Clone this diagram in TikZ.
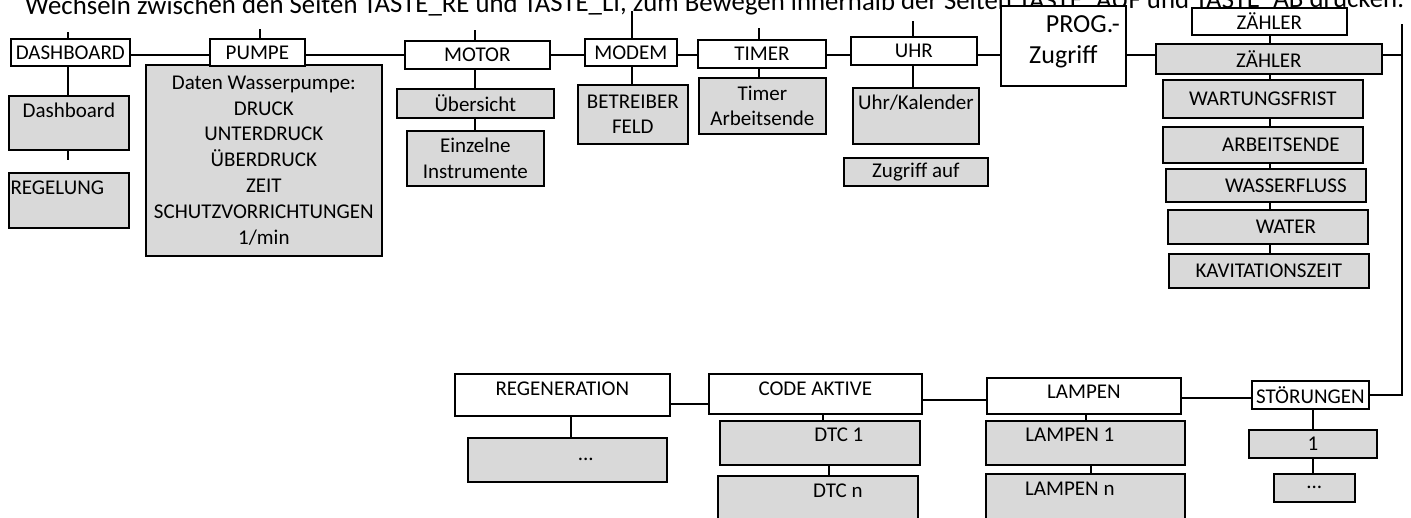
\documentclass[tikz,border=0pt]{standalone}
\usepackage{fontspec}
\setmainfont{Carlito}
\usepackage{graphicx}
\usetikzlibrary{calc}
\definecolor{boxgray}{HTML}{D9D9D9}
\newcommand\myfs{\fontsize{21}{25.8}\selectfont}
\begin{document}
\begin{tikzpicture}[x=1pt,y=-1pt,
  bx/.style={draw=black, line width=1.7pt, inner sep=0pt, anchor=north west, font=\myfs},
  wb/.style={bx, fill=white},
  gb/.style={bx, fill=boxgray},
  sz/.style 2 args={minimum width=#1pt, minimum height=#2pt},
  tb/.style 2 args={text height=#1pt, text depth=#2pt},
  con/.style={line width=1.7pt, line cap=rect}]
\path[use as bounding box, clip] (0,0) rectangle (1411,518);
\fill[white] (0,0) rectangle (1411,518);

% title (cut by the top edge)
\node[anchor=base west, inner sep=0pt, rotate=0.33] (title) at (25,15)
  {\resizebox{1379pt}{!}{\fontsize{24}{28}\selectfont Wechseln zwischen den Seiten TASTE\_RE und TASTE\_LI, zum Bewegen innerhalb der Seiten TASTE\_AUF und TASTE\_AB drücken.}};

% ---------- top row ----------
\node[gb, sz={236}{191}, align=center] (pumpd) at (145,64)
  {Daten Wasserpumpe:\\DRUCK\\UNTERDRUCK\\ÜBERDRUCK\\ZEIT\\SCHUTZVORRICHTUNGEN\\1/min};
\node[wb, sz={119}{27}] (dash) at (10,38) {DASHBOARD};
\node[wb, sz={95}{27}] (pumpe) at (209,38) {PUMPE};
\node[wb, sz={145}{28}] (motor) at (404,40) {MOTOR};
\node[wb, sz={92}{27}] (modem) at (584,38) {MODEM};
\node[wb, sz={128}{28}] (timer) at (697,39) {TIMER};
\node[wb, sz={126}{28}] (uhr) at (850,36) {UHR};
\node[wb, sz={125}{80}, tb={58}{22}, align=center, font=\fontsize{26}{31.5}\selectfont] (prog) at (1000,5)
  {\hspace*{39pt}PROG.-\\Zugriff};
\node[wb, sz={155}{27}] (zw) at (1191,7) {ZÄHLER};

\node[gb, sz={120}{54}, tb={22}{32}] (dashb) at (8,95) {Dashboard};
\node[gb, sz={120}{55}, tb={22}{33}] (regel) at (8,172) {\hspace*{-23pt}REGELUNG};
\node[gb, sz={157}{29}] (uebers) at (396,88) {Übersicht};
\node[gb, sz={137}{55}, align=center] (einz) at (406,130) {Einzelne\\Instrumente};
\node[gb, sz={110}{59}, align=center] (betr) at (577,84) {BETREIBER\\FELD};
\node[gb, sz={127}{56}, align=center] (tarb) at (698,77) {Timer\\Arbeitsende};
\node[gb, sz={126}{56}, tb={22}{34}] (uhrk) at (852,87) {Uhr/Kalender};
\node[gb, sz={144}{28}] (zugr) at (843,157) {Zugriff auf};
\node[gb, sz={226}{30}] (zg) at (1155,43) {ZÄHLER};
\node[gb, sz={200}{38}] (wart) at (1162,79) {WARTUNGSFRIST};
\node[gb, sz={200}{36}] (arbe) at (1162,126) {\hspace*{36pt}ARBEITSENDE};
\node[gb, sz={200}{33}] (wass) at (1165,168) {\hspace*{40pt}WASSERFLUSS};
\node[gb, sz={200}{34}] (water) at (1167,209) {\hspace*{36pt}WATER};
\node[gb, sz={200}{34}] (kav) at (1168,253) {KAVITATIONSZEIT};

% ---------- bottom row ----------
\node[wb, sz={215}{42}, tb={22}{20}] (regen) at (454,373) {REGENERATION};
\node[gb, sz={199}{44}] (rdots) at (467,437) {\hspace*{37pt}...};
\node[wb, sz={213}{40}, tb={22}{18}] (code) at (708,373) {CODE AKTIVE};
\node[gb, sz={200}{44}, tb={21}{23}] (dtc1) at (719,420) {\hspace*{38pt}DTC 1};
\node[gb, sz={200}{60}, tb={22}{38}] (dtcn) at (717,475) {\hspace*{40pt}DTC n};
\node[wb, sz={194}{36}, tb={21}{15}] (lamp) at (986,377) {LAMPEN};
\node[gb, sz={199}{44}, tb={21}{23}] (lamp1) at (985,420) {\hspace*{-31pt}LAMPEN 1};
\node[gb, sz={199}{60}, tb={22}{38}] (lampn) at (985,473) {\hspace*{-31pt}LAMPEN n};
\node[wb, sz={117}{28}] (stoer) at (1251,380) {STÖRUNGEN};
\node[gb, sz={128}{28}] (s1) at (1248,429) {1};
\node[gb, sz={81}{28}] (sdots) at (1273,473) {...};

% ---------- helper coordinates ----------
\coordinate (rail) at (0,55);
\coordinate (rtop) at (1402,25);
\coordinate (rbend) at (1402,395);
\coordinate (dtop) at (68,33);
\coordinate (dend) at (68,159);
\coordinate (ptop) at (260,30);
\coordinate (mtop) at (475,31);
\coordinate (motop) at (632,12);
\coordinate (ttop) at (759,29);
\coordinate (utop) at (913,22);
\coordinate (zcol) at (1270,0);
\coordinate (b1) at (0,404);
\coordinate (b2) at (0,400);
\coordinate (b3) at (0,398);
\coordinate (rcol) at (571,0);
\coordinate (ccol) at (823,0);
\coordinate (ccol2) at (829,0);
\coordinate (lcol) at (1086,0);
\coordinate (lcol2) at (1091,0);
\coordinate (scol) at (1313,0);

% ---------- connectors ----------
\begin{scope}[con]
\draw (dash.east |- rail) -- (pumpe.west |- rail);
\draw (pumpe.east |- rail) -- (motor.west |- rail);
\draw (motor.east |- rail) -- (modem.west |- rail);
\draw (modem.east |- rail) -- (timer.west |- rail);
\draw (timer.east |- rail) -- (uhr.west |- rail);
\draw (uhr.east |- rail) -- (prog.west |- rail);
\draw (prog.east |- rail) -- (zg.west |- rail);
\draw (zg.east |- rail) -- (rtop |- rail);
\draw (rtop) -- (rbend) -- (stoer.east |- rbend);

\draw (dtop) -- (dash.north -| dtop);
\draw (ptop) -- (pumpe.north -| ptop);
\draw (mtop) -- (motor.north -| mtop);
\draw (motop) -- (modem.north -| motop);
\draw (ttop) -- (timer.north -| ttop);
\draw (utop) -- (uhr.north -| utop);

\draw (dash.south -| dtop) -- (dashb.north -| dtop);
\draw (dashb.south -| dtop) -- (dend);
\draw (motor.south -| mtop) -- (uebers.north -| mtop);
\draw (uebers.south -| mtop) -- (einz.north -| mtop);
\draw (modem.south -| motop) -- (betr.north -| motop);
\draw (timer.south -| ttop) -- (tarb.north -| ttop);
\draw (uhr.south -| utop) -- (uhrk.north -| utop);

\draw (zw.south -| zcol) -- (zg.north -| zcol);
\draw (zg.south -| zcol) -- (wart.north -| zcol);
\draw (wart.south -| zcol) -- (arbe.north -| zcol);
\draw (arbe.south -| zcol) -- (wass.north -| zcol);
\draw (wass.south -| zcol) -- (water.north -| zcol);
\draw (water.south -| zcol) -- (kav.north -| zcol);

\draw (regen.east |- b1) -- (code.west |- b1);
\draw (code.east |- b2) -- (lamp.west |- b2);
\draw (lamp.east |- b3) -- (stoer.west |- b3);
\draw (regen.south -| rcol) -- (rdots.north -| rcol);
\draw (code.south -| ccol) -- (dtc1.north -| ccol);
\draw (dtc1.south -| ccol2) -- (dtcn.north -| ccol2);
\draw (lamp.south -| lcol) -- (lamp1.north -| lcol);
\draw (lamp1.south -| lcol2) -- (lampn.north -| lcol2);
\draw (stoer.south -| scol) -- (s1.north -| scol);
\draw (s1.south -| scol) -- (sdots.north -| scol);
\end{scope}
\end{tikzpicture}
\end{document}
